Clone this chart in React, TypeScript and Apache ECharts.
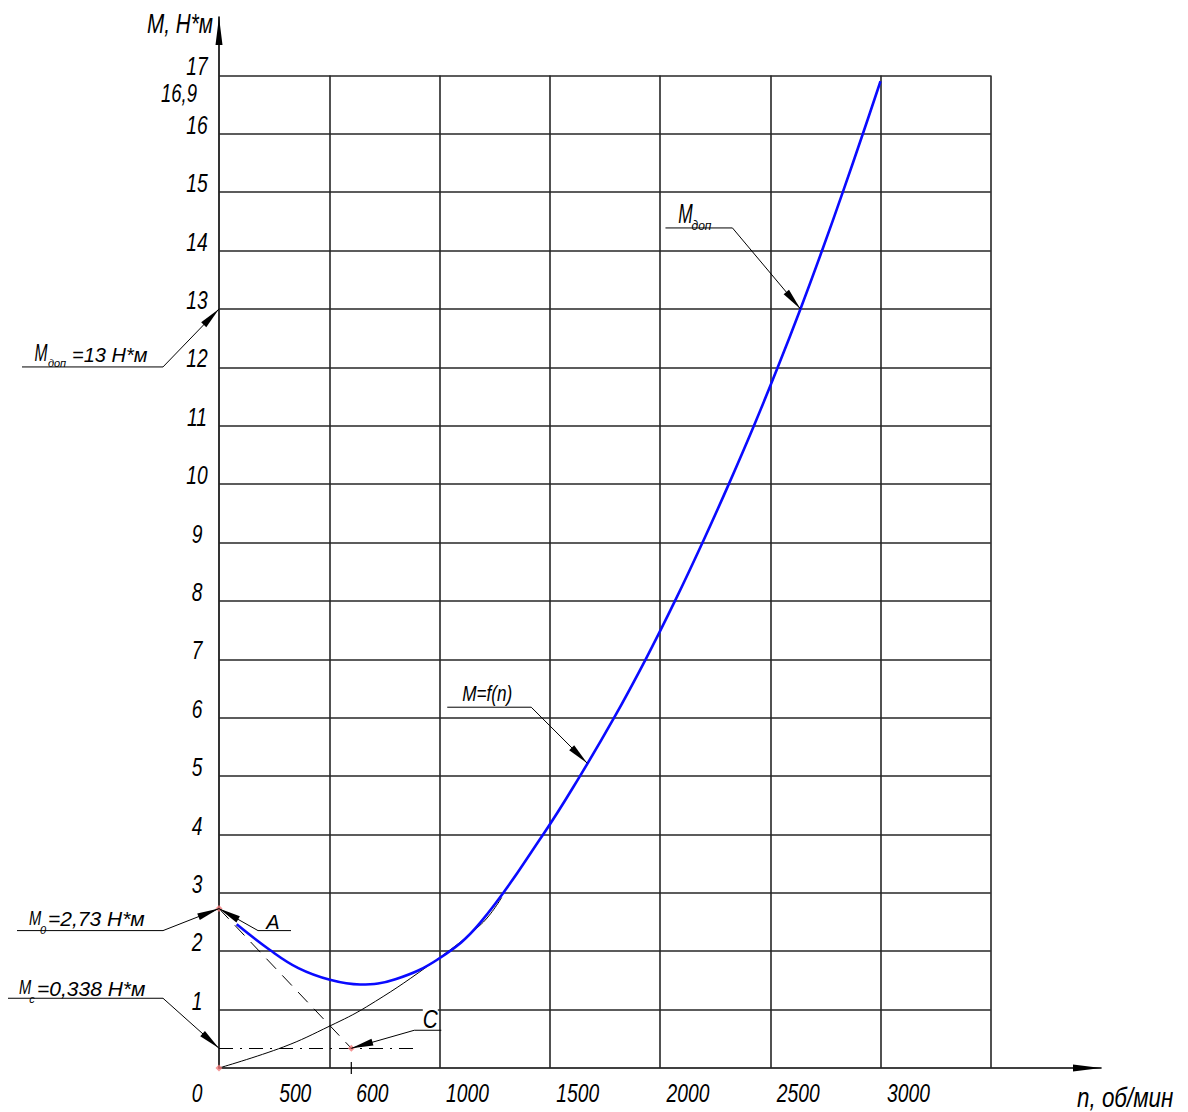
import React, { useEffect, useRef } from 'react';
import * as echarts from 'echarts';

// ---- data ----
const xTickValues = [0, 500, 600, 1000, 1500, 2000, 2500, 3000];
const xTickLabels = ['0', '500', '600', '1000', '1500', '2000', '2500', '3000'];
const yTickValues = [1, 2, 3, 4, 5, 6, 7, 8, 9, 10, 11, 12, 13, 14, 15, 16, 17];
const yTickLabels = ['1', '2', '3', '4', '5', '6', '7', '8', '9', '10', '11', '12', '13', '14', '15', '16', '17'];
const gridVerticalN = [500, 1000, 1500, 2000, 2500, 3000, 3500];
const gridHorizontalM = [1, 2, 3, 4, 5, 6, 7, 8, 9, 10, 11, 12, 13, 14, 15, 16, 17];
const gridNMax = 3500;
const gridMMax = 17;
const axisNMax = 4000;
const axisMMax = 18;

// M = f(n) (blue curve)
const curveN = [80, 231, 360, 503, 640, 800, 1000, 1183, 1470, 1637, 1792, 1935, 2068, 2193, 2312, 2426, 2534, 2637, 2735, 2829, 2920, 3000];
const curveM = [2.46, 2.02, 1.71, 1.51, 1.43, 1.52, 1.88, 2.48, 4.0, 5.0, 6.0, 7.0, 8.0, 9.0, 10.0, 11.0, 12.0, 13.0, 14.0, 15.0, 16.0, 16.9];
// black curve from origin
const blackN = [0, 292, 503, 670, 941, 1191, 1282];
const blackM = [0, 0.36, 0.72, 1.05, 1.73, 2.47, 2.92];

const M0 = 2.73;
const Mc = 0.338;
const Mdop = 13;
const Mend = 16.9;
const nC = 600;
const nDashDotEnd = 910;
const nDop = 2637;
const fTargetN = 1670;
const fTargetM = 5.22;

const FONT = "'Liberation Sans','Arimo',Arial,sans-serif";
const font = (s: number) => `italic ${s}px ${FONT}`;

export default function App() {
  const ref = useRef<HTMLDivElement>(null);
  useEffect(() => {
    const chart = echarts.init(ref.current!, undefined, { renderer: 'svg' });
    const gridSegs: any[] = [];
    gridHorizontalM.forEach((m) => gridSegs.push({ coords: [[0, m], [gridNMax, m]] }));
    gridVerticalN.forEach((n) => gridSegs.push({ coords: [[n, 0], [n, gridMMax]] }));

    const axisCommon = {
      axisTick: { show: false },
      axisLabel: { show: false },
      splitLine: { show: false },
      axisLine: {
        show: true,
        onZero: false,
        symbol: ['none', 'triangle'],
        symbolSize: [7, 28],
        symbolOffset: [0, -14],
        lineStyle: { color: '#000', width: 1.6 },
      },
    };

    chart.setOption({
      animation: false,
      backgroundColor: '#ffffff',
      grid: { left: 219, top: 17, width: 882, height: 1051 },
      xAxis: { type: 'value', min: 0, max: axisNMax, ...axisCommon },
      yAxis: { type: 'value', min: 0, max: axisMMax, ...axisCommon },
      series: [
        {
          type: 'lines', coordinateSystem: 'cartesian2d', silent: true, z: 1,
          data: gridSegs,
          lineStyle: { color: '#262626', width: 1.6, opacity: 1 },
        },
        {
          type: 'lines', coordinateSystem: 'cartesian2d', silent: true, z: 2,
          data: [{ coords: [[0, Mc], [nDashDotEnd, Mc]] }],
          lineStyle: { color: '#000', width: 1, opacity: 1, type: [14, 7, 2, 7] },
        },
        {
          type: 'lines', coordinateSystem: 'cartesian2d', silent: true, z: 2,
          data: [{ coords: [[0, M0], [nC, Mc]] }],
          lineStyle: { color: '#000', width: 1, opacity: 1, type: [14, 9] },
        },
        {
          type: 'line', z: 3, silent: true, showSymbol: false, smooth: 0.4,
          data: blackN.map((n, i) => [n, blackM[i]]),
          lineStyle: { color: '#000', width: 1 },
        },
        {
          type: 'line', z: 4, silent: true, showSymbol: false, smooth: 0.4,
          data: curveN.map((n, i) => [n, curveM[i]]),
          lineStyle: { color: '#0a0aff', width: 2.6 },
        },
        {
          type: 'scatter', z: 5, silent: true, symbol: 'diamond', symbolSize: 7,
          data: [[0, M0], [nC, Mc], [0, 0]],
          itemStyle: { color: '#f27a7a' },
        },
      ],
    });

    const px = (n: number, m: number) => chart.convertToPixel({ gridIndex: 0 }, [n, m]) as number[];
    const g: any[] = [];
    const text = (t: string, x: number, y: number, size: number, align = 'left', sx = 1, extra: any = {}) =>
      g.push({
        type: 'text', z: 60, x, y, scaleX: sx,
        style: { text: t, x: 0, y: 0, font: font(size), fill: '#000', align, verticalAlign: 'middle', ...extra },
      });
    const arrow = (tip: number[], from: number[], len = 22, hw = 3.5) => {
      const dx = tip[0] - from[0];
      const dy = tip[1] - from[1];
      const d = Math.hypot(dx, dy);
      const ux = dx / d, uy = dy / d;
      const bx = tip[0] - ux * len, by = tip[1] - uy * len;
      g.push({ type: 'polygon', z: 63, shape: { points: [tip, [bx - uy * hw, by + ux * hw], [bx + uy * hw, by - ux * hw]] }, style: { fill: '#000' } });
    };
    const leader = (pts: number[][]) =>
      g.push({ type: 'polyline', z: 62, shape: { points: pts }, style: { stroke: '#000', lineWidth: 1, fill: null } });

    const TS = 0.74; // condensed tick text
    // x tick labels
    xTickValues.forEach((v, i) => {
      const p = px(v, 0);
      const dx = v === 0 ? -22 : v === 500 ? -34 : v === 600 ? 21 : 28;
      text(xTickLabels[i], p[0] + dx, p[1] + 25, 26, 'center', TS);
    });
    // y tick labels
    yTickValues.forEach((v, i) => {
      const p = px(0, v);
      text(yTickLabels[i], p[0] - 22, p[1] - 9, 26, 'center', TS);
    });
    {
      const p = px(0, Mend);
      text('16,9', p[0] - 40, p[1] + 12, 25, 'center', TS);
    }
    // tick at 600
    {
      const p = px(nC, 0);
      g.push({ type: 'line', z: 59, shape: { x1: p[0], y1: p[1] - 6, x2: p[0], y2: p[1] + 6 }, style: { stroke: '#000', lineWidth: 1.2 } });
    }
    // axis titles
    {
      const p = px(0, axisMMax);
      text('М, Н*м', p[0] - 6, p[1] + 6, 28, 'right', TS);
      const q = px(axisNMax, 0);
      text('n, об/мин', q[0] - 24, q[1] + 29, 28, 'left', 0.8);
    }

    // M_доп = 13 (left)
    {
      const T = px(0, Mdop);
      const elbow = [T[0] - 56, T[1] + 58];
      leader([[T[0] - 197, T[1] + 58], elbow, T]);
      arrow(T, elbow);
      text('M', T[0] - 178, T[1] + 44, 24, 'center', 0.65);
      text('доп', T[0] - 162, T[1] + 54, 11, 'center');
      text('=13 Н*м', T[0] - 147, T[1] + 46, 20, 'left');
    }
    // M0 = 2,73
    {
      const T = px(0, M0);
      const elbow = [T[0] - 56, T[1] + 22];
      leader([[T[0] - 202, T[1] + 22], elbow, T]);
      arrow(T, elbow);
      text('M', T[0] - 184, T[1] + 9, 21, 'center', 0.7);
      text('0', T[0] - 176, T[1] + 21, 11, 'center');
      text('=2,73 Н*м', T[0] - 171, T[1] + 10, 21, 'left');
    }
    // A
    {
      const T = px(0, M0);
      const start = [T[0] + 39, T[1] + 22];
      leader([[T[0] + 72, T[1] + 22], start, T]);
      arrow(T, start);
      text('A', T[0] + 54, T[1] + 13, 20, 'center');
    }
    // Mc = 0,338
    {
      const T = px(0, Mc);
      const elbow = [T[0] - 56, T[1] - 50];
      leader([[T[0] - 211, T[1] - 50], elbow, T]);
      arrow(T, elbow);
      text('M', T[0] - 194, T[1] - 61, 21, 'center', 0.7);
      text('с', T[0] - 187, T[1] - 49, 11, 'center');
      text('=0,338 Н*м', T[0] - 182, T[1] - 60, 21, 'left');
    }
    // C
    {
      const T = px(nC, Mc);
      const start = [T[0] + 63, T[1] - 18];
      leader([[T[0] + 90, T[1] - 18], start, T]);
      arrow(T, start);
      text('C', T[0] + 79, T[1] - 29, 26, 'center', 0.8, { backgroundColor: '#fff' });
    }
    // M_доп on curve
    {
      const T = px(nDop, Mdop);
      const elbow = [T[0] - 68, T[1] - 81];
      leader([[T[0] - 135, T[1] - 81], elbow, T]);
      arrow(T, elbow);
      text('M', T[0] - 115, T[1] - 96, 28, 'center', 0.62);
      text('доп', T[0] - 99, T[1] - 83, 12, 'center');
    }
    // M = f(n)
    {
      const T = px(fTargetN, fTargetM);
      const elbow = [T[0] - 56, T[1] - 56];
      leader([[T[0] - 140, T[1] - 56], elbow, T]);
      arrow(T, elbow);
      text('M=f(n)', T[0] - 125, T[1] - 70, 22, 'left', 0.78);
    }

    chart.setOption({ graphic: g });
    return () => chart.dispose();
  }, []);
  return <div ref={ref} style={{ position: 'absolute', left: 0, top: 0, width: 1188, height: 1112, background: '#fff' }} />;
}
